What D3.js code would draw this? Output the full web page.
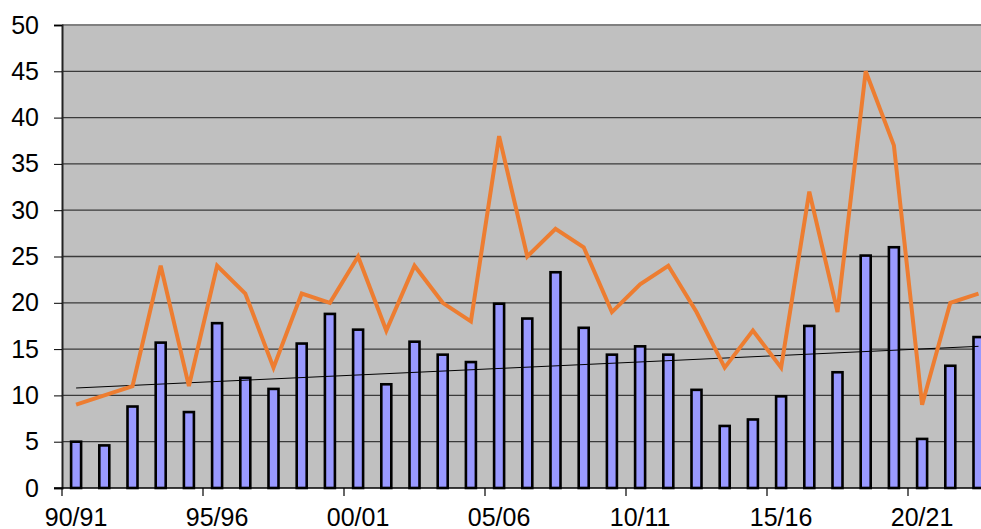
<!DOCTYPE html>
<head>
  <meta charset="utf-8" />
  <style>
    body { margin: 0; background: #fff; }
    svg { display: block; }
  </style>
</head>
<div id="div_template"></div>
<script src="https://d3js.org/d3.v7.min.js"></script>
<script>
  const seasons = [
    '90/91', '91/92', '92/93', '93/94', '94/95', '95/96', '96/97', '97/98',
    '98/99', '99/00', '00/01', '01/02', '02/03', '03/04', '04/05', '05/06',
    '06/07', '07/08', '08/09', '09/10', '10/11', '11/12', '12/13', '13/14',
    '14/15', '15/16', '16/17', '17/18', '18/19', '19/20', '20/21', '21/22',
    '22/23',
  ];
  const barValues = [
    5.0, 4.6, 8.8, 15.7, 8.2, 17.8, 11.9, 10.7, 15.6, 18.8, 17.1, 11.2, 15.8,
    14.4, 13.6, 19.9, 18.3, 23.3, 17.3, 14.4, 15.3, 14.4, 10.6, 6.7, 7.4, 9.9,
    17.5, 12.5, 25.1, 26.0, 5.3, 13.2, 16.3,
  ];
  const lineValues = [
    9, 10, 11, 24, 11, 24, 21, 13, 21, 20, 25, 17, 24, 20, 18, 38, 25, 28, 26,
    19, 22, 24, 19, 13, 17, 13, 32, 19, 45, 37, 9, 20, 21,
  ];
  // linear trend, value at first and last season
  const trendValues = [
    { season: '90/91', value: 10.8 },
    { season: '22/23', value: 15.3 },
  ];
  const yTicks = [0, 5, 10, 15, 20, 25, 30, 35, 40, 45, 50];
  const xLabelEvery = 5;

  var width = 981,
    height = 529,
    plotLeft = 62,
    plotTop = 25,
    plotBottom = 488,
    band = 28.2;

  var svg = d3
    .select('#div_template')
    .append('svg')
    .attr('width', width)
    .attr('height', height);

  var xScale = d3
    .scaleBand()
    .domain(seasons)
    .range([plotLeft, plotLeft + seasons.length * band]);

  var yScale = d3.scaleLinear().domain([0, 50]).range([plotBottom, plotTop]);

  var cx = (s) => xScale(s) + xScale.bandwidth() / 2;
  var plotRight = xScale.range()[1];

  // plot background
  svg
    .append('rect')
    .attr('x', plotLeft)
    .attr('y', plotTop)
    .attr('width', plotRight - plotLeft)
    .attr('height', plotBottom - plotTop)
    .attr('fill', '#C0C0C0');

  // gridlines
  svg
    .append('g')
    .selectAll('line')
    .data(yTicks.filter((d) => d > 0 && d < 50))
    .enter()
    .append('line')
    .attr('x1', plotLeft)
    .attr('x2', plotRight)
    .attr('y1', (d) => yScale(d))
    .attr('y2', (d) => yScale(d))
    .attr('stroke', '#3a3a3a')
    .attr('stroke-width', 1.3);

  // top border
  svg
    .append('line')
    .attr('x1', plotLeft)
    .attr('x2', plotRight)
    .attr('y1', yScale(50))
    .attr('y2', yScale(50))
    .attr('stroke', '#808080')
    .attr('stroke-width', 2);

  // bars
  var barW = 10;
  svg
    .append('g')
    .selectAll('rect')
    .data(barValues)
    .enter()
    .append('rect')
    .attr('x', (d, i) => cx(seasons[i]) - barW / 2)
    .attr('y', (d) => yScale(d))
    .attr('width', barW)
    .attr('height', (d) => yScale(0) - yScale(d))
    .attr('fill', '#9999FF')
    .attr('stroke', '#000')
    .attr('stroke-width', 2.6);

  // trend line
  svg
    .append('path')
    .datum(trendValues)
    .attr(
      'd',
      d3
        .line()
        .x((d) => cx(d.season))
        .y((d) => yScale(d.value))
    )
    .attr('fill', 'none')
    .attr('stroke', '#000')
    .attr('stroke-width', 1);

  // orange series
  svg
    .append('path')
    .datum(lineValues)
    .attr(
      'd',
      d3
        .line()
        .x((d, i) => cx(seasons[i]))
        .y((d) => yScale(d))
    )
    .attr('fill', 'none')
    .attr('stroke', '#ED7D31')
    .attr('stroke-width', 4)
    .attr('stroke-linejoin', 'miter');

  // y axis
  var yAxis = d3
    .axisLeft(yScale)
    .tickValues(yTicks)
    .tickSize(8)
    .tickPadding(15)
    .tickFormat(d3.format('d'));

  var gy = svg
    .append('g')
    .attr('transform', 'translate(' + plotLeft + ',0)')
    .call(yAxis);
  gy.select('.domain').attr('stroke', '#222').attr('stroke-width', 2);
  gy.selectAll('.tick line').attr('stroke', '#000');
  gy.selectAll('.tick text')
    .attr('fill', '#000')
    .attr('font-family', 'Liberation Sans, Arial, sans-serif')
    .attr('font-size', '25px');

  // x axis line
  svg
    .append('line')
    .attr('x1', plotLeft - 8)
    .attr('x2', plotRight)
    .attr('y1', plotBottom)
    .attr('y2', plotBottom)
    .attr('stroke', '#000')
    .attr('stroke-width', 1.5);

  var labelled = seasons.filter((s, i) => i % xLabelEvery === 0);

  svg
    .append('g')
    .selectAll('line')
    .data(labelled)
    .enter()
    .append('line')
    .attr('x1', (d) => xScale(d))
    .attr('x2', (d) => xScale(d))
    .attr('y1', plotBottom)
    .attr('y2', plotBottom + 8)
    .attr('stroke', '#000')
    .attr('stroke-width', 1.2);

  svg
    .append('g')
    .selectAll('text')
    .data(labelled)
    .enter()
    .append('text')
    .attr('x', (d) => cx(d))
    .attr('y', 526)
    .attr('text-anchor', 'middle')
    .attr('font-family', 'Liberation Sans, Arial, sans-serif')
    .attr('font-size', '25px')
    .attr('fill', '#000')
    .text((d) => d);
</script>
